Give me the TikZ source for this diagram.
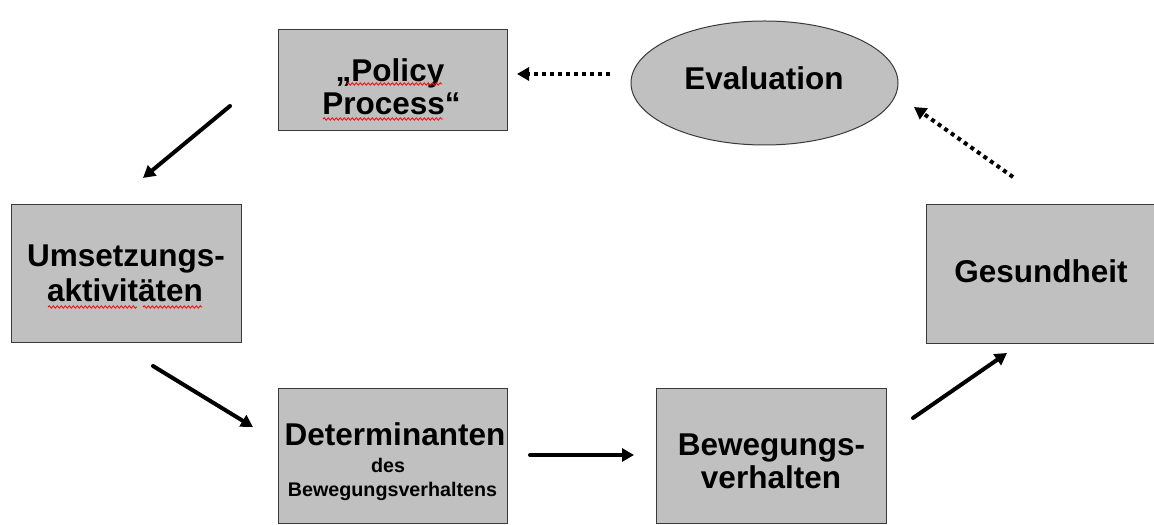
\documentclass[tikz,border=0pt]{standalone}
\usepackage{fontspec}
\setmainfont{Liberation Sans}
\usetikzlibrary{arrows.meta,shapes.geometric,decorations.pathmorphing}
\definecolor{boxgray}{HTML}{C0C0C0}
\definecolor{boxline}{HTML}{3A3A3A}
\begin{document}
\begin{tikzpicture}[x=1bp,y=-1bp,
 boxnode/.style={draw=boxline,line width=1bp,fill=boxgray,rectangle,inner sep=0,outer sep=0},
 ellnode/.style={draw=boxline,line width=1bp,fill=boxgray,ellipse,inner sep=0,outer sep=0},
 big/.style={font=\fontsize{31.5bp}{33bp}\selectfont\bfseries,anchor=base,inner sep=0},
 small/.style={font=\fontsize{19.7bp}{20bp}\selectfont\bfseries,anchor=base,inner sep=0},
 solidarrow/.style={line width=4bp,line cap=round,-{Triangle[length=12bp,width=13bp]}},
 dotarrow/.style={line width=4bp,dash pattern=on 4bp off 4bp,-{Triangle[length=12bp,width=13bp]}},
 wavy/.style={draw=red,line width=0.8bp,decorate,decoration={snake,amplitude=1.2bp,segment length=4bp}}]
\clip (0,0) rectangle (1154,525);
\fill[white] (0,0) rectangle (1154,525);

% boxes
\node[boxnode,minimum width=229bp,minimum height=101bp] (policy) at (392.5,80.5) {};
\node[ellnode,minimum width=267bp,minimum height=124bp] (eval) at (764.5,83) {};
\node[boxnode,minimum width=229bp,minimum height=137bp] (umsetz) at (126.5,273.5) {};
\node[boxnode,minimum width=229bp,minimum height=134bp] (determ) at (392.5,456) {};
\node[boxnode,minimum width=230bp,minimum height=134bp] (beweg) at (771,456) {};
\node[boxnode,minimum width=240bp,minimum height=138bp] (gesund) at (1046,274) {};

% texts
\node[big] (t1) at (390,82) {„Policy};
\node[big] (t2) at (391.5,115) {Process“};
\node[big] (t3) at (764,90) {Evaluation};
\node[big] (t4) at (126,267) {Umsetzungs-};
\node[big] (t5) at (125,302) {aktivitäten};
\node[big] (t6) at (395,445) {Determinanten};
\node[small] (t7) at (388,472) {des};
\node[small] (t8) at (392.5,496) {Bewegungsverhaltens};
\node[big] (t9) at (771.5,455) {Bewegungs-};
\node[big] (t10) at (771,488) {verhalten};
\node[big] (t11) at (1041,283) {Gesundheit};

% spell-check underlines
\draw[wavy] (347,84) -- (442,84);
\draw[wavy] (323,119) -- (443,119);
\draw[wavy] (48,307) -- (137,307);
\draw[wavy] (143,307) -- (202,307);

% arrow end points
\coordinate (a1s) at (230,106);
\coordinate (a1e) at (143,178);
\coordinate (a2s) at (153,366);
\coordinate (a2e) at (253,427);
\coordinate (a3s) at (530,455);
\coordinate (a3e) at (634,455);
\coordinate (a4s) at (913,418);
\coordinate (a4e) at (1007,353);
\coordinate (a5s) at (1013,177);
\coordinate (a5e) at (914,107);
\coordinate (a6s) at (610,74);
\coordinate (a6e) at (517,74);

\draw[solidarrow] (a1s) -- (a1e);
\draw[solidarrow] (a2s) -- (a2e);
\draw[solidarrow] (a3s) -- (a3e);
\draw[solidarrow] (a4s) -- (a4e);
\draw[dotarrow] (a5s) -- (a5e);
\draw[dotarrow] (a6s) -- (a6e);
\end{tikzpicture}
\end{document}
